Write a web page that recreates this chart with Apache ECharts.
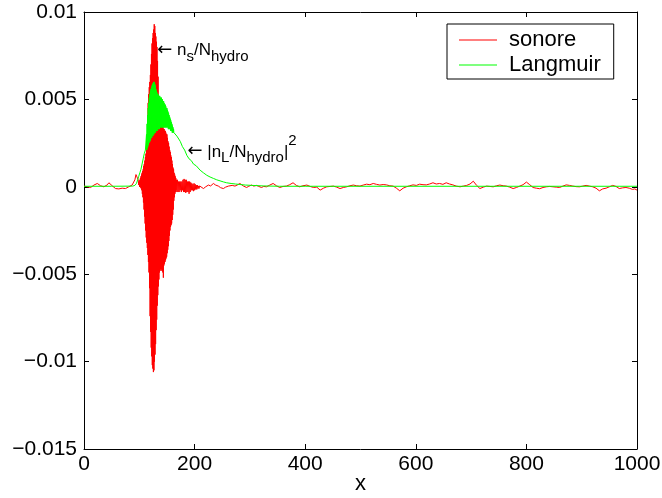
<!DOCTYPE html>
<html><head><meta charset="utf-8">
<script src="https://cdn.jsdelivr.net/npm/echarts@6/dist/echarts.min.js"></script>
<style>html,body{margin:0;padding:0;background:#fff}#c{width:662px;height:498px}</style>
</head><body><div id="c"></div>
<script>
// ---- data ----
const legendNames = ['sonore', 'Langmuir'];
const xTicks = [0, 200, 400, 600, 800, 1000];
const yTicks = [-0.015, -0.01, -0.005, 0, 0.005, 0.01];

// red trace: noise before the burst
const sonorePre = [[0,0.00004],[3,0.00002],[6,0],[9,-0.00003],[12,-0.00004],[15,0.00003],[18,0.0001],[21,0.00015],[24,0.00019],[27,0.00015],[30,0.00006],[33,0.00001],[36,0],[39,0.00005],[42,0.00011],[45,0.00023],[48,0.00015],[51,0.00006],[54,0],[57,-0.0001],[60,-0.00015],[63,-0.00012],[66,-0.0001],[69,-0.00008],[72,-0.00013],[75,-0.0001],[78,-0.00004],[81,0],[84,0.00004],[87,0.0001],[90,0.00019],[92,0.0004],[94,0.0007],[96,0.00072],[98,0.0004],[99,0.0001]];
// red trace: fast oscillating burst (upper and lower swings)
const sonoreBurst = [[100,0.0003],[100.5,0],[101,0.0004],[101.5,0],[102,0.0005],[102.5,-0.00005],[103,0.0006],[103.5,-0.0001],[104,0.0007],[104.5,-0.0002],[105,0.0008],[105.5,-0.0004],[106,0.0009],[106.5,-0.0006],[107,0.001],[107.5,-0.0009],[108,0.0012],[108.5,-0.0013],[109,0.0013],[109.5,-0.0017],[110,0.0015],[110.5,-0.0021],[111,0.0017],[111.5,-0.0025],[112,0.0019],[112.5,-0.0029],[113,0.0022],[113.5,-0.0032],[114,0.0026],[114.5,-0.0035],[115,0.0035],[115.5,-0.0039],[116,0.0048],[116.5,-0.0043],[117,0.0053],[117.5,-0.0049],[118,0.0057],[118.5,-0.0058],[119,0.006],[119.5,-0.0074],[120,0.0064],[120.5,-0.0083],[121,0.007],[121.5,-0.0092],[122,0.0076],[122.5,-0.0097],[123,0.0082],[123.5,-0.0102],[124,0.0085],[124.5,-0.0104],[125,0.0088],[125.5,-0.0106],[126,0.009],[126.5,-0.0105],[127,0.0093],[127.5,-0.01],[128,0.0092],[128.5,-0.0096],[129,0.0088],[129.5,-0.009],[130,0.0086],[130.5,-0.0082],[131,0.0083],[131.5,-0.0076],[132,0.008],[132.5,-0.0068],[133,0.0072],[133.5,-0.0062],[134,0.0063],[134.5,-0.0057],[135,0.005],[135.5,-0.0053],[136,0.0046],[136.5,-0.0049],[137,0.0046],[137.5,-0.0048],[138,0.0045],[138.5,-0.0047],[139,0.0042],[139.5,-0.0048],[140,0.0036],[140.5,-0.0047],[141,0.0034],[141.5,-0.0048],[142,0.0034],[142.5,-0.0049],[143,0.0034],[143.5,-0.0052],[144,0.0033],[144.5,-0.0045],[145,0.0033],[145.5,-0.0044],[146,0.0032],[146.5,-0.0043],[147,0.0032],[147.5,-0.0042],[148,0.0031],[148.5,-0.0041],[149,0.003],[149.5,-0.004],[150,0.003],[150.5,-0.0038],[151,0.0028],[151.5,-0.0036],[152,0.0026],[152.5,-0.0034],[153,0.0025],[153.5,-0.0031],[154,0.0023],[154.5,-0.0028],[155,0.0021],[155.5,-0.0025],[156,0.002],[156.5,-0.0023],[157,0.0018],[157.5,-0.0022],[158,0.0017],[158.5,-0.0021],[159,0.0015],[159.5,-0.0019],[160,0.0013],[160.5,-0.0016],[161,0.0011],[161.5,-0.0013],[162,0.001],[162.5,-0.0008],[163,0.0008],[163.5,-0.0006],[164,0.0007],[164.5,-0.0004],[165,0.0006],[165.5,-0.0003],[166,0.0005],[166.5,-0.0002]];
// red trace: smaller ripples after the burst
const sonorePost = [[167,0.0004],[168,-0.0003],[169,0.0004],[170,-0.0003],[171,0.0003],[172,-0.0003],[173,0.0003],[174,-0.0002],[175,0.0003],[176,-0.0003],[177,0.0003],[178,-0.0002],[179,0.0004],[180,-0.0003],[181,0.00045],[182,-0.0003],[183,0.0004],[184,-0.00035],[185,0.0004],[186,-0.0003],[187,0.0003],[188,-0.0003],[189,0.0003],[190,-0.0004],[191,0.0003],[192,-0.0003],[193,0.00025],[194,-0.0002],[195,0.0002],[196,-0.0002],[197,0.00015],[198,-0.00025],[199,0.0002],[200,-0.0002],[201,0.00015],[202,-0.00015],[203,0.0001],[204,-0.00015],[205,0.0001],[206,-0.0001],[207,0.00005],[208,-0.0001],[209,0.00005],[210,-0.00005]];
// red trace: noise for the rest of the domain
const sonoreTail = [[212,0.00005],[216,-0.0001],[220,0],[225,0.0001],[229,0.00005],[234,0.00019],[238,0.0001],[243,0.00004],[247,-0.00005],[252,-0.0001],[256,-0.00002],[261,0.00004],[264,0.00013],[268,0.00008],[273,0.00004],[277,0.0001],[282,0.00019],[288,0.00005],[294,-0.00004],[298,0.00003],[303,0.0001],[307,0.00004],[312,0.00008],[316,0.00002],[321,-0.00004],[325,0.00002],[330,0],[336,0.0001],[342,0.00019],[348,0.00006],[354,-0.00004],[360,0.00002],[366,0.00004],[372,0.00012],[378,0.00023],[384,0.00008],[390,0],[396,0.00006],[403,0.0001],[409,0.00002],[415,-0.00004],[421,-0.00002],[427,-0.00019],[433,-0.00008],[439,0],[445,0.00002],[451,0.00004],[457,-0.00002],[463,-0.0001],[469,-0.00004],[475,0],[481,0.00006],[487,0.0001],[493,0.00006],[499,0.00004],[505,0.0001],[511,0.00015],[517,0.00012],[523,0.00019],[529,0.00014],[535,0.0001],[541,0.00013],[547,0.00011],[553,0.00006],[559,0.00004],[565,-0.00008],[571,-0.00023],[577,-0.00008],[583,0],[589,0.00006],[595,0.00011],[601,0.00008],[607,0.00015],[613,0.00012],[619,0.00011],[625,0.00016],[631,0.00023],[637,0.00016],[643,0.00019],[649,0.00014],[655,0.00023],[661,0.00016],[667,0.00011],[673,0.00004],[680,0],[686,0.00004],[692,0.00008],[698,0.00016],[704,0.00032],[710,0.00008],[716,-0.0001],[722,-0.00002],[728,0.00004],[734,0.00002],[740,0],[746,0.00006],[752,0.0001],[758,0.00006],[764,0.00004],[770,-0.00002],[776,-0.0001],[782,-0.00004],[788,0.00004],[794,0.00012],[800,0.00027],[806,0.00012],[812,-0.00004],[818,-0.00008],[824,-0.00011],[830,-0.00004],[836,0],[842,0.00002],[848,0],[854,-0.00002],[860,-0.00004],[866,0.00004],[872,0.00011],[878,0.00008],[884,0.00004],[890,0.00001],[896,0],[902,0.00004],[908,0.00008],[914,0.00004],[920,0],[926,-0.00008],[932,-0.00023],[938,-0.00012],[944,-0.00008],[950,0],[956,0.00008],[962,0.00002],[968,-0.0001],[974,-0.00006],[980,-0.00004],[986,-0.00008],[992,-0.00015],[996,-0.00012],[1000,-0.00019]];

// green trace: rise before the oscillating part
const langmuirPre = [[0,0.00003],[50,0.00003],[88,0.00004],[92,0.00008],[95,0.0002],[97,0.0004],[99,0.0006],[101,0.0008],[103,0.001],[105,0.0013],[107,0.0016],[109,0.0019],[111,0.0021],[112.5,0.0021]];
// green trace: oscillating part (upper and lower swings)
const langmuirBurst = [[113,0.003],[113.5,0.0021],[114,0.0036],[114.5,0.0022],[115,0.0041],[115.5,0.0023],[116,0.0045],[116.5,0.0024],[117,0.0048],[117.5,0.0025],[118,0.0051],[118.5,0.0026],[119,0.0053],[119.5,0.0026],[120,0.0055],[120.5,0.0027],[121,0.0056],[121.5,0.0028],[122,0.0057],[122.5,0.0028],[123,0.0058],[123.5,0.0029],[124,0.0059],[124.5,0.0029],[125,0.0059],[125.5,0.003],[126,0.006],[126.5,0.003],[127,0.006],[127.5,0.0031],[128,0.0059],[128.5,0.0031],[129,0.0058],[129.5,0.0031],[130,0.0056],[130.5,0.0032],[131,0.0055],[131.5,0.0032],[132,0.0054],[132.5,0.0032],[133,0.0053],[133.5,0.0033],[134,0.0053],[134.5,0.0033],[135,0.0052],[135.5,0.0033],[136,0.0052],[136.5,0.0033],[137,0.0052],[137.5,0.0034],[138,0.0051],[138.5,0.0034],[139,0.0051],[139.5,0.0034],[140,0.0051],[140.5,0.0034],[141,0.005],[141.5,0.0034],[142,0.005],[142.5,0.0034],[143,0.0049],[143.5,0.0034],[144,0.0049],[144.5,0.0034],[145,0.0048],[145.5,0.0034],[146,0.0047],[146.5,0.0034],[147,0.0047],[147.5,0.0034],[148,0.0046],[148.5,0.0034],[149,0.0045],[149.5,0.0034],[150,0.0045],[150.5,0.0034],[151,0.0044],[151.5,0.0034],[152,0.0043],[152.5,0.0033],[153,0.0042],[153.5,0.0033],[154,0.0041],[154.5,0.0033],[155,0.004],[155.5,0.0033],[156,0.0039],[156.5,0.0032],[157,0.0038],[157.5,0.0032],[158,0.0037],[158.5,0.0032],[159,0.0036],[159.5,0.0031],[160,0.0035],[160.5,0.0031],[161,0.0034],[161.5,0.0031],[162,0.0033],[162.5,0.0031],[163,0.0032],[163.5,0.003],[164,0.0032],[164.5,0.003],[165,0.0031]];
// green trace: smooth decay afterwards
const langmuirPost = [[166,0.003],[168,0.0029],[171,0.0028],[174,0.0026],[178,0.0023],[182,0.0021],[186,0.0018],[190,0.0016],[194,0.0015],[198,0.0013],[203,0.0012],[210,0.00095],[216,0.0008],[222,0.00066],[228,0.00056],[234,0.00048],[240,0.0004],[246,0.00034],[252,0.00028],[258,0.00023],[266,0.00019],[274,0.00016],[282,0.00013],[292,0.0001],[304,0.00008],[324,0.00005],[354,0.00003],[400,0.00003],[1000,0.00003]];

// annotation anchors (data coordinates of the arrow tips)
const note1Anchor = [132.5, 0.0078];
const note2Anchor = [187, 0.002];

const FONT = "'Liberation Sans', Arial, Helvetica, sans-serif";
const sonore = sonorePre.concat(sonoreBurst, sonorePost, sonoreTail);
const langmuir = langmuirPre.concat(langmuirBurst, langmuirPost);

const fmtY = v => {
  const r = Number(Math.abs(v).toFixed(3));
  return (v < -1e-9 ? '\u2212' : '') + String(r);
};
const fmtX = v => String(Math.round(v));

const chart = echarts.init(document.getElementById('c'), null, {renderer: 'canvas'});
const axisLineStyle = {color: '#000', width: 1};
const tick = {show: true, inside: true, length: 5, lineStyle: {color: '#000', width: 1}};

chart.setOption({
  animation: false,
  backgroundColor: '#fff',
  grid: {left: 84, right: 25, top: 12, bottom: 49, outerBoundsMode: 'none', containLabel: false},
  legend: {
    data: legendNames,
    orient: 'vertical',
    left: 447, top: 24,
    padding: [5, 13, 3, 12],
    itemGap: 3,
    icon: 'rect',
    itemWidth: 38, itemHeight: 1,
    borderColor: '#000', borderWidth: 1,
    backgroundColor: '#fff',
    textStyle: {fontFamily: FONT, fontSize: 22, color: '#000', lineHeight: 22, padding: [0, 0, 0, 7]}
  },
  xAxis: [{
    type: 'value', min: xTicks[0], max: xTicks[xTicks.length - 1], interval: xTicks[1] - xTicks[0],
    position: 'bottom',
    name: 'x', nameLocation: 'middle', nameGap: 24, nameMoveOverlap: false,
    nameTextStyle: {fontFamily: FONT, fontSize: 22, color: '#000'},
    axisLine: {show: true, onZero: false, lineStyle: axisLineStyle},
    axisTick: tick,
    axisLabel: {fontFamily: FONT, fontSize: 21, color: '#000', margin: 5, formatter: fmtX},
    splitLine: {show: false}
  }, {
    type: 'value', min: xTicks[0], max: xTicks[xTicks.length - 1], interval: xTicks[1] - xTicks[0],
    position: 'top',
    axisLine: {show: true, onZero: false, lineStyle: axisLineStyle},
    axisTick: tick, axisLabel: {show: false}, splitLine: {show: false}
  }],
  yAxis: [{
    type: 'value', min: yTicks[0], max: yTicks[yTicks.length - 1], interval: yTicks[1] - yTicks[0],
    position: 'left',
    axisLine: {show: true, onZero: false, lineStyle: axisLineStyle},
    axisTick: tick,
    axisLabel: {fontFamily: FONT, fontSize: 21, color: '#000', margin: 7, formatter: fmtY},
    splitLine: {show: false}
  }, {
    type: 'value', min: yTicks[0], max: yTicks[yTicks.length - 1], interval: yTicks[1] - yTicks[0],
    position: 'right',
    axisLine: {show: true, onZero: false, lineStyle: axisLineStyle},
    axisTick: tick, axisLabel: {show: false}, splitLine: {show: false}
  }],
  series: [{
    name: legendNames[0], type: 'line', data: sonore,
    xAxisIndex: 0, yAxisIndex: 0,
    symbol: 'none', showSymbol: false, smooth: false,
    lineStyle: {color: '#ff0000', width: 1}, itemStyle: {color: '#ff0000'},
    clip: true, z: 2
  }, {
    name: legendNames[1], type: 'line', data: langmuir,
    xAxisIndex: 0, yAxisIndex: 0,
    symbol: 'none', showSymbol: false, smooth: false,
    lineStyle: {color: '#00ff00', width: 1}, itemStyle: {color: '#00ff00'},
    clip: true, z: 3
  }]
});

const rich = {
  a: {fontFamily: "'DejaVu Sans', sans-serif", fontSize: 18, lineHeight: 18, color: '#000', verticalAlign: 'top', padding: [9, 0, 0, 0]},
  m: {fontFamily: FONT, fontSize: 17, lineHeight: 17, color: '#000', verticalAlign: 'top', padding: [10, 0, 0, 0]},
  s: {fontFamily: FONT, fontSize: 15, lineHeight: 15, color: '#000', verticalAlign: 'top', padding: [17, 0, 0, 0]},
  p: {fontFamily: FONT, fontSize: 15, lineHeight: 15, color: '#000', verticalAlign: 'top', padding: [0, 0, 0, 0]}
};
const p1 = chart.convertToPixel({xAxisIndex: 0, yAxisIndex: 0}, note1Anchor);
const p2 = chart.convertToPixel({xAxisIndex: 0, yAxisIndex: 0}, note2Anchor);
chart.setOption({
  graphic: [{
    type: 'text', x: p1[0], y: p1[1] - 18.5, z: 10,
    style: {text: '{a|\u2190}{m| n}{s|s}{m|/N}{s|hydro}', rich: rich, align: 'left', verticalAlign: 'top'}
  }, {
    type: 'text', x: p2[0], y: p2[1] - 18.5, z: 10,
    style: {text: '{a|\u2190}{m| |n}{s|L}{m|/N}{s|hydro}{m||}{p|2}', rich: rich, align: 'left', verticalAlign: 'top'}
  }]
});
</script>
</body></html>
